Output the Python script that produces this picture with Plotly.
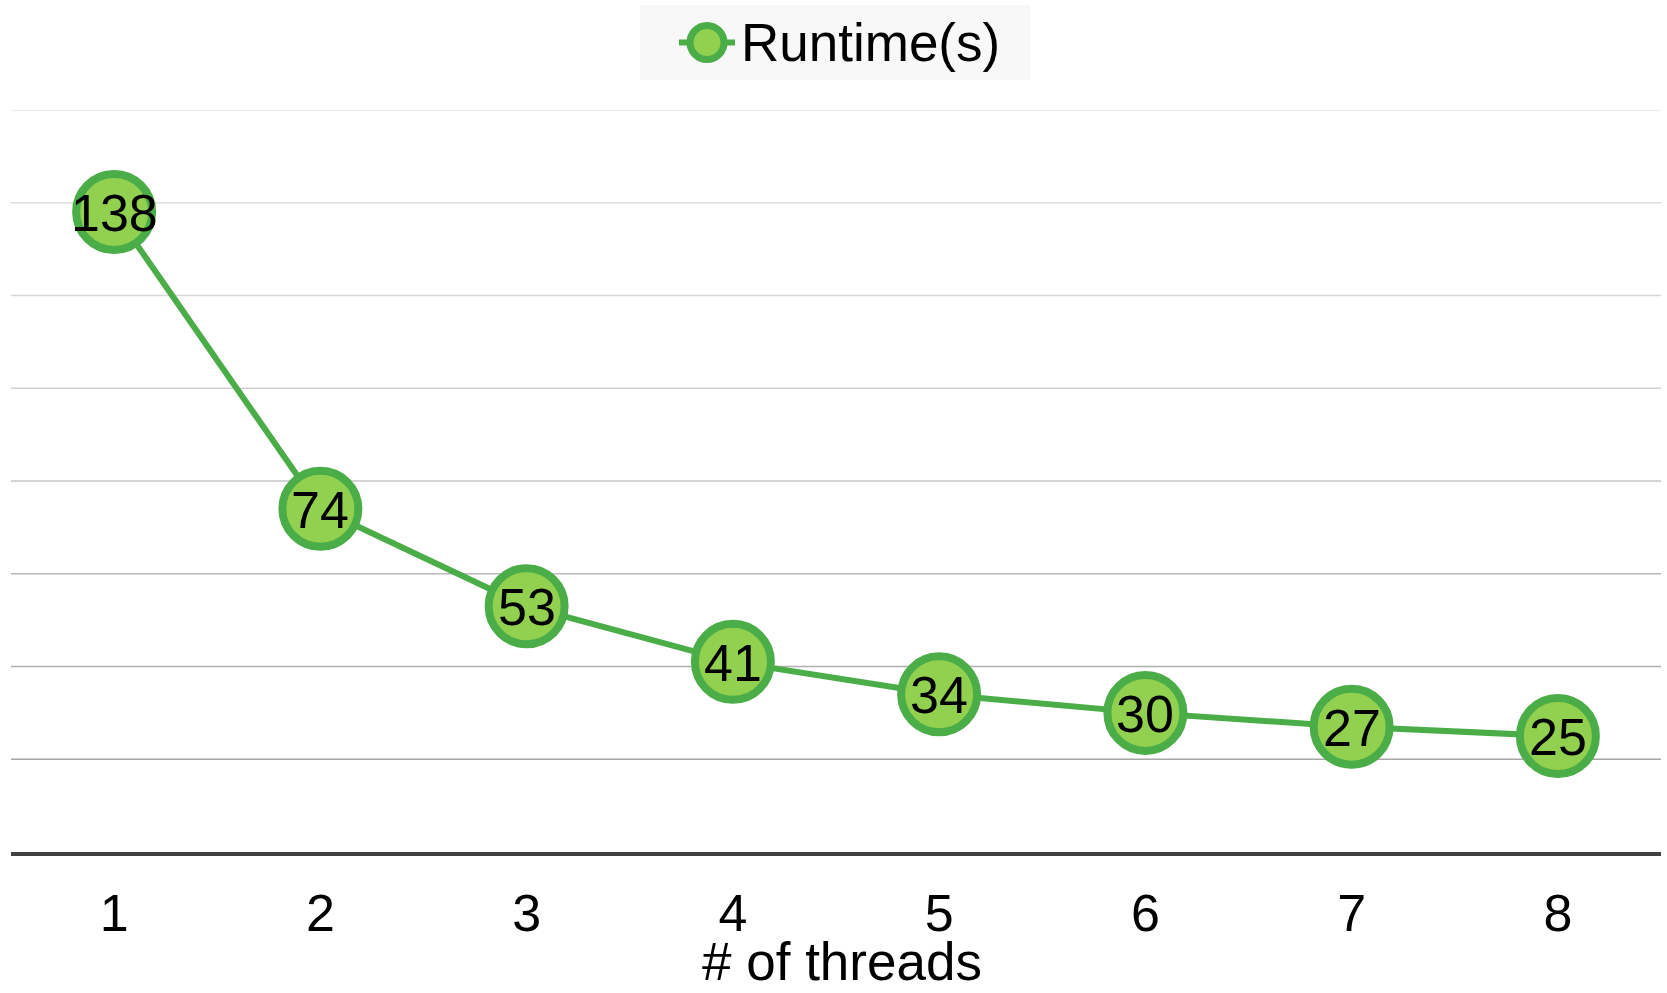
import plotly.graph_objects as go

# Thread counts and measured runtimes
threads = ["1", "2", "3", "4", "5", "6", "7", "8"]
runtime_s = [138, 74, 53, 41, 34, 30, 27, 25]

# Horizontal reference levels and their shades (darker toward the axis)
grid_levels = [20, 40, 60, 80, 100, 120, 140, 160]
grid_colors = ["#a6a6a6", "#afafaf", "#b9b9b9", "#c6c6c6",
               "#cfcfcf", "#d7d7d7", "#dedede", "#e4e4e4"]

series_name = "Runtime(s)"
x_title = "# of threads"

LINE_GREEN = "#4aad47"
FILL_GREEN = "#92d050"
FONT = "Liberation Sans, Arial, sans-serif"
FS = 52

W, H = 1667, 993
M_L, M_R, M_T, M_B = 11, 6, 110, 141
PW = W - M_L - M_R
PH = H - M_T - M_B


def px_x(p):
    return (p - M_L) / PW


def px_y(p):
    return 1 + (M_T - p) / PH


fig = go.Figure()
fig.add_trace(go.Scatter(
    x=threads,
    y=runtime_s,
    mode="lines+markers",
    name=series_name,
    line=dict(color=LINE_GREEN, width=6),
    marker=dict(size=76, color=FILL_GREEN,
                line=dict(color=LINE_GREEN, width=8)),
    showlegend=False,
    cliponaxis=False,
))

# Value labels centred on each marker (category axes take the index position)
annotations = [
    dict(x=i, y=v, xref="x", yref="y", text=str(v), showarrow=False,
         xanchor="center", yanchor="middle", yshift=-1,
         font=dict(family=FONT, size=FS, color="black"))
    for i, v in enumerate(runtime_s)
]

shapes = []
for lvl, col in zip(grid_levels, grid_colors):
    shapes.append(dict(type="line", xref="paper", x0=0, x1=1,
                       yref="y", y0=lvl, y1=lvl,
                       line=dict(color=col, width=1.6), layer="below"))

# Legend box drawn by hand so the key symbol can be full size
leg_y = px_y(42.5)
shapes.append(dict(type="rect", xref="paper", yref="paper",
                   x0=px_x(640), x1=px_x(1030), y0=px_y(80), y1=px_y(5),
                   fillcolor="#f8f8f8", line=dict(width=0), layer="below"))
shapes.append(dict(type="line", xref="paper", yref="paper",
                   x0=px_x(679), x1=px_x(735), y0=leg_y, y1=leg_y,
                   line=dict(color=LINE_GREEN, width=6)))
shapes.append(dict(type="circle", xref="paper", yref="paper",
                   xsizemode="pixel", ysizemode="pixel",
                   xanchor=px_x(707), yanchor=leg_y,
                   x0=-17, x1=17, y0=-17, y1=17,
                   fillcolor=FILL_GREEN, line=dict(color=LINE_GREEN, width=7)))

annotations.append(dict(text=series_name, xref="paper", yref="paper",
                        x=px_x(739), y=leg_y, xanchor="left", yanchor="middle",
                        showarrow=False,
                        font=dict(family=FONT, size=53, color="black")))

# Axis title placed just under the tick labels, kept inside the page
annotations.append(dict(text=x_title, xref="paper", yref="paper",
                        x=px_x(842), y=px_y(992), xanchor="center",
                        yanchor="bottom", showarrow=False, borderpad=0,
                        font=dict(family=FONT, size=53, color="black")))

fig.update_layout(
    width=W, height=H,
    margin=dict(l=M_L, r=M_R, t=M_T, b=M_B, pad=0),
    paper_bgcolor="white",
    plot_bgcolor="white",
    font=dict(family=FONT, size=FS, color="black"),
    shapes=shapes,
    annotations=annotations,
    xaxis=dict(
        type="category",
        range=[-0.5, 7.5],
        automargin=False,
        showgrid=False,
        zeroline=False,
        showline=True,
        linecolor="#404040",
        linewidth=4,
        ticks="",
        ticklabelstandoff=13,
        tickfont=dict(family=FONT, size=FS, color="black"),
    ),
    yaxis=dict(
        range=[0, 160],
        automargin=False,
        showgrid=False,
        zeroline=False,
        showticklabels=False,
        ticks="",
    ),
)

fig.write_html("out.html")
